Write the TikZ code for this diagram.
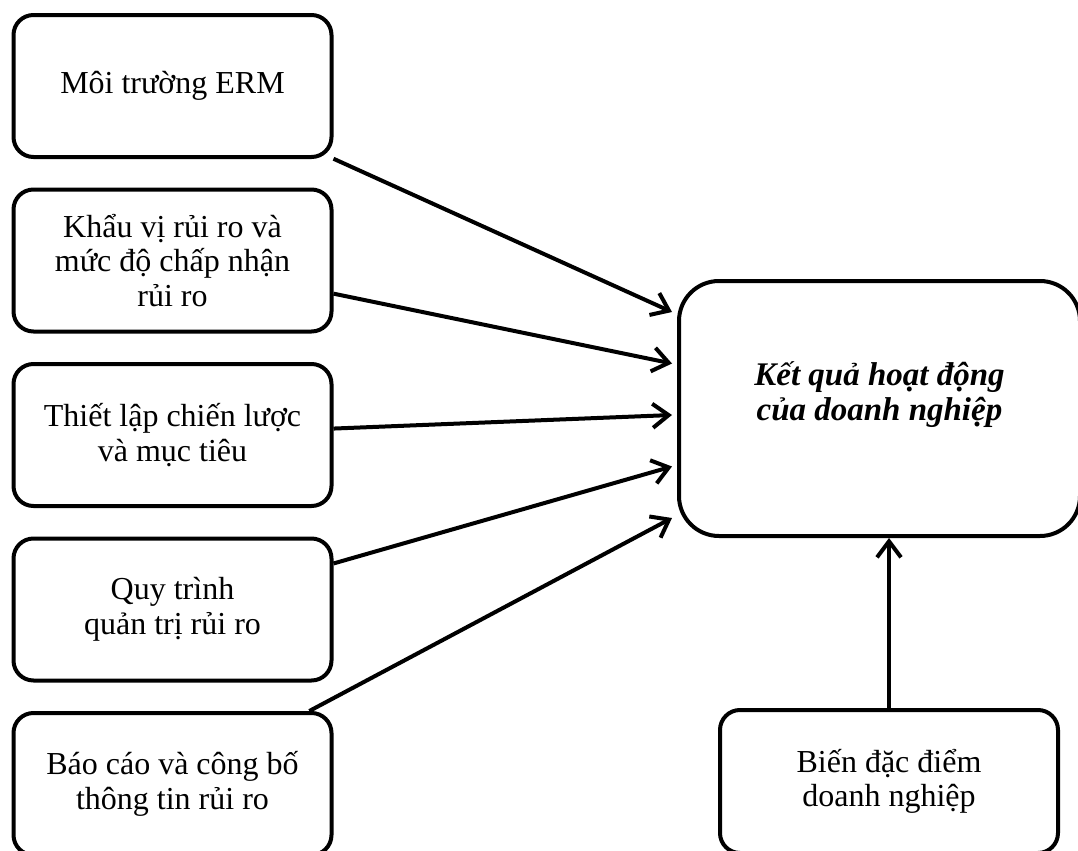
\documentclass[tikz,border=0pt]{standalone}
\usepackage{fontspec}
\setmainfont{Liberation Serif}
\usepackage{tikz}
\usetikzlibrary{arrows.meta}
\usetikzlibrary{positioning}
\tikzset{factor/.style={rectangle,rounded corners=10pt,draw=black,line width=2pt,minimum width=159pt,minimum height=71pt,align=center,inner sep=2pt,font=\fontsize{16}{17.25}\selectfont}}
\tikzset{result/.style={rectangle,rounded corners=20pt,draw=black,line width=2pt,minimum width=200.5pt,minimum height=127.5pt}}
\tikzset{ctrl/.style={rectangle,rounded corners=10pt,draw=black,line width=2pt,minimum width=169pt,minimum height=71.5pt,align=center,inner sep=2pt,font=\fontsize{16}{17.25}\selectfont}}
\tikzset{arr/.style={line width=2pt,-{Straight Barb[length=8pt,width=12pt]}}}

\begin{document}
\begin{tikzpicture}[x=0.5pt,y=-0.5pt]
  \clip (0,0) rectangle (1078,851);
  \useasboundingbox (0,0) rectangle (1078,851);
  % left column
  \foreach \i/\txt in {1/{Môi trường ERM},
                       2/{Khẩu vị rủi ro và\\mức độ chấp nhận\\rủi ro},
                       3/{Thiết lập chiến lược\\và mục tiêu},
                       4/{Quy trình\\quản trị rủi ro},
                       5/{Báo cáo và công bố\\thông tin rủi ro}} {
    \node[factor] (b\i) at (172.5,{86+174.5*(\i-1)}) {\txt};
  }
  % outcome
  \node[result] (res) at (879.5,408.5) {};
  \node[align=center,font=\fontsize{16.5}{17.5}\selectfont\bfseries\itshape] (restxt) at ([yshift=7pt]res.center) {Kết quả hoạt động\\của doanh nghiệp};
  % control variable
  \node[ctrl] (ctl) at (889,781.5) {Biến đặc điểm\\doanh nghiệp};
  % arrows
  \foreach \i in {1,...,5} {
    \coordinate (t\i) at (672,{312+51.5*(\i-1)});
    \draw[arr] (b\i) -- (t\i);
  }
  \draw[arr] (ctl.north) -- (ctl.north |- res.south);
\end{tikzpicture}
\end{document}
